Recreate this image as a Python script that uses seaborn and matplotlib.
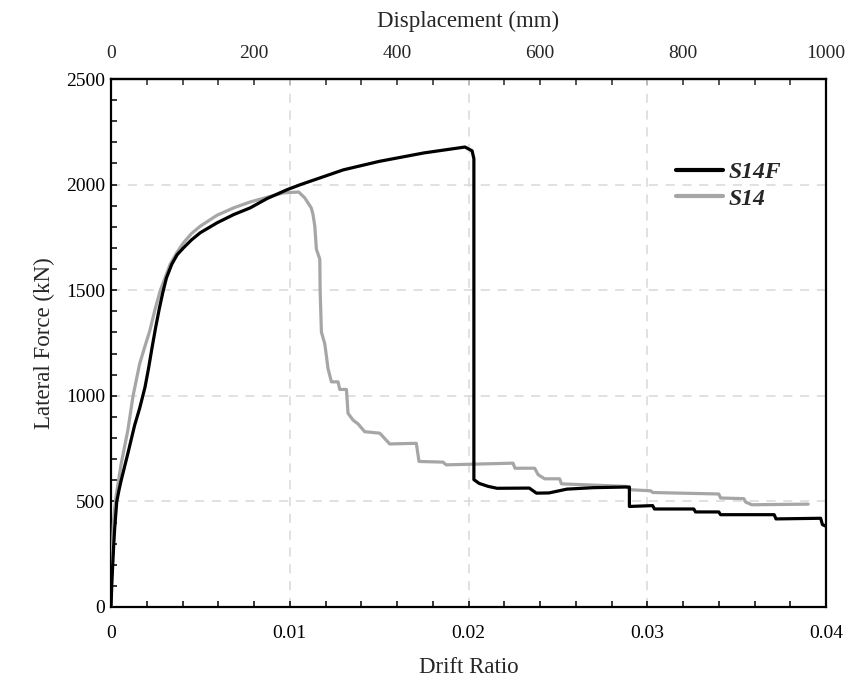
import numpy as np
import pandas as pd
import matplotlib
matplotlib.use("Agg")
import matplotlib.pyplot as plt
from matplotlib.ticker import MultipleLocator
from matplotlib.lines import Line2D
import seaborn as sns

# ---- data ----
s14f_drift = [0, 0.00005, 0.0001, 0.00015, 0.0002, 0.00032, 0.00045, 0.00057, 0.00094,
              0.00132, 0.0016, 0.0019, 0.0021, 0.0023, 0.0025, 0.0027, 0.0029, 0.0031,
              0.0034, 0.0037, 0.00406, 0.0045, 0.00499, 0.00593, 0.00686, 0.00779,
              0.00873, 0.00985, 0.0106, 0.0130, 0.0150, 0.0175, 0.0198, 0.0202, 0.0203,
              0.0203, 0.0206, 0.0211, 0.0216, 0.0234, 0.0238, 0.0245, 0.0255, 0.0270,
              0.0288, 0.0290, 0.0290, 0.0303, 0.0304, 0.0326, 0.0327, 0.0340, 0.0341,
              0.0371, 0.0372, 0.0397, 0.0398, 0.0400]
s14f_force = [0, 120, 207, 290, 365, 498, 555, 600, 726,
              860, 940, 1040, 1130, 1230, 1325, 1412, 1490, 1558,
              1623, 1668, 1701, 1738, 1772, 1819, 1858, 1890,
              1934, 1976, 2000, 2070, 2110, 2150, 2178, 2160, 2123,
              603, 585, 571, 562, 563, 539, 540, 558, 565,
              568, 568, 476, 480, 464, 464, 450, 450, 437,
              437, 417, 420, 390, 382]

s14_drift = [0, 0.00003, 0.00006, 0.0001, 0.00015, 0.00028, 0.00057, 0.00094, 0.00123,
             0.0016, 0.0019, 0.00217, 0.00245, 0.00275, 0.00331, 0.0037, 0.00406, 0.0045,
             0.00499, 0.00593, 0.00686, 0.00779, 0.00873, 0.00966, 0.0105, 0.01084,
             0.0112, 0.0113, 0.0114, 0.01149, 0.01168, 0.0117, 0.01177, 0.01196, 0.01214,
             0.01233, 0.0127, 0.0128, 0.01317, 0.01326, 0.01354, 0.01382, 0.01419,
             0.01503, 0.01521, 0.01559, 0.01708, 0.01723, 0.01857, 0.01875, 0.02249,
             0.0226, 0.0237, 0.0239, 0.02426, 0.0251, 0.0252, 0.0288, 0.0291, 0.0302,
             0.0303, 0.0340, 0.0341, 0.0354, 0.0355, 0.03585, 0.0390]
s14_force = [0, 110, 207, 330, 420, 522, 679, 836, 998,
             1151, 1235, 1308, 1405, 1497, 1623, 1680, 1725, 1768,
             1803, 1855, 1890, 1918, 1940, 1961, 1965, 1937,
             1890, 1859, 1804, 1694, 1647, 1498, 1302, 1246, 1129,
             1066, 1066, 1030, 1030, 917, 885, 867, 830,
             823, 807, 772, 775, 689, 686, 673, 681,
             657, 657, 626, 607, 607, 583, 571, 555, 550,
             542, 535, 516, 513, 497, 484, 487]

series_names = ["S14F", "S14"]
series_colors = ["#000000", "#a6a6a6"]
x_ticks = [0, 0.01, 0.02, 0.03, 0.04]
x_tick_labels = ["0", "0.01", "0.02", "0.03", "0.04"]
top_ticks = [0, 200, 400, 600, 800, 1000]
y_ticks = [0, 500, 1000, 1500, 2000, 2500]

df = pd.concat([
    pd.DataFrame({"drift": s14f_drift, "force": s14f_force, "series": "S14F"}),
    pd.DataFrame({"drift": s14_drift, "force": s14_force, "series": "S14"}),
], ignore_index=True)

sns.set_style("white")
plt.rcParams["font.family"] = ["Liberation Serif", "DejaVu Serif"]

fig = plt.figure(figsize=(8.5, 6.86), dpi=100)
ax = fig.add_axes([0.1306, 0.1152, 0.8412, 0.7696])

sns.lineplot(data=df, x="drift", y="force", hue="series", hue_order=series_names,
             palette=dict(zip(series_names, series_colors)), sort=False,
             estimator=None, units="series", linewidth=2.3, ax=ax, legend=False)
for ln in ax.get_lines():
    c = matplotlib.colors.to_hex(ln.get_color())
    if c == "#000000":
        ln.set_zorder(4)
    else:
        ln.set_zorder(3)

ax.set_xlim(0, 0.04)
ax.set_ylim(0, 2500)
ax.set_xticks(x_ticks)
ax.set_xticklabels(x_tick_labels)
ax.set_yticks(y_ticks)
ax.xaxis.set_minor_locator(MultipleLocator(0.002))
ax.yaxis.set_minor_locator(MultipleLocator(100))

ax.grid(True, which="major", color="#d9d9d9", linestyle=(0, (6, 5)), linewidth=1.1)
ax.set_axisbelow(True)

for s in ax.spines.values():
    s.set_visible(True)
    s.set_color("black")
    s.set_linewidth(1.6)

ax.tick_params(axis="both", which="both", direction="in", length=4.5, width=1.1,
               colors="black", labelsize=14, top=False, right=False, left=True,
               bottom=True)
ax.tick_params(axis="x", which="major", pad=13)
ax.tick_params(axis="y", which="major", pad=4)

ax.set_xlabel("Drift Ratio", fontsize=16.5, labelpad=11)
ax.set_ylabel("Lateral Force (kN)", fontsize=16.5, labelpad=8)

sec = ax.secondary_xaxis("top", functions=(lambda x: x * 25000, lambda x: x / 25000))
sec.set_xticks(top_ticks)
sec.xaxis.set_minor_locator(MultipleLocator(50))
sec.tick_params(axis="x", which="both", direction="in", length=4.5, width=1.1,
                labelsize=14, pad=12)
sec.set_xlabel("Displacement (mm)", fontsize=16.5, labelpad=13)
sec.spines["top"].set_linewidth(1.6)

handles = [Line2D([0], [0], color=c, lw=3) for c in series_colors]
leg = ax.legend(handles, series_names, loc="upper left", bbox_to_anchor=(0.79, 0.843),
                frameon=False, handlelength=2.0, handletextpad=0.25, labelspacing=0.2,
                borderpad=0, borderaxespad=0,
                prop={"family": "Liberation Serif", "weight": "bold", "style": "italic",
                      "size": 17})

fig.savefig("out.png", dpi=100)
